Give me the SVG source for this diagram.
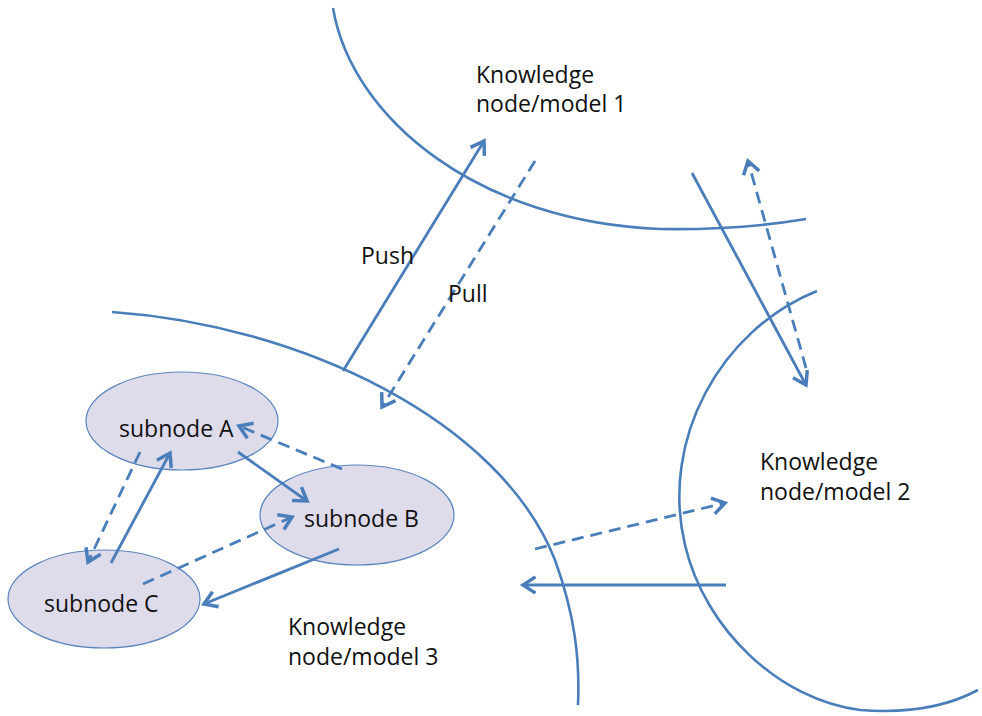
<svg xmlns="http://www.w3.org/2000/svg" width="982" height="716" viewBox="0 0 982 716">
<style>
.b{fill:none;stroke:#4a7ebb;stroke-width:2.6}
.c{fill:none;stroke:#4a7ebb;stroke-width:2.8}
.d{stroke-dasharray:12 7}
.n{fill:#dedbea;stroke:#5b84bd;stroke-width:1.2}
text{font-family:"Open Sans","Liberation Sans",sans-serif;font-size:23px;fill:#111}
</style>
<defs>
<marker id="ah" markerUnits="userSpaceOnUse" markerWidth="20" markerHeight="20" viewBox="-12 -8 16 16" refX="0" refY="0" orient="auto">
<path d="M-10,-6.5 L0,0 L-10,6.5" fill="none" stroke="#4a7ebb" stroke-width="2.8" stroke-linejoin="miter"/>
</marker>
</defs>
<rect width="982" height="716" fill="#fff"/>
<g id="boundaries">
<path id="b1" class="b" d="M333,8 C352,120 480,222 660,229 C720,230 770,225 806,219"/>
<path id="b3" class="b" d="M112,312 C300,325 500,420 555,560 C575,615 580,660 578,705"/>
<path id="b2" class="b" d="M817,291 C720,330 660,440 685,545 C705,630 780,700 860,710 C910,714 950,705 978,690"/>
</g>
<g id="node1"><text x="476" y="83">Knowledge</text><text x="476" y="112">node/model 1</text></g>
<g id="node2"><text x="760" y="470">Knowledge</text><text x="760" y="500">node/model 2</text></g>
<g id="node3"><text x="288" y="635">Knowledge</text><text x="288" y="665">node/model 3</text></g>
<g id="subnodeA"><ellipse class="n" cx="182" cy="421" rx="96" ry="49"/><text x="119" y="437">subnode A</text></g>
<g id="subnodeB"><ellipse class="n" cx="357" cy="515" rx="97" ry="50"/><text x="304" y="527">subnode B</text></g>
<g id="subnodeC"><ellipse class="n" cx="104" cy="599" rx="96" ry="49"/><text x="44" y="612">subnode C</text></g>
<g id="connectors">
<line class="c" x1="343" y1="371" x2="484" y2="141" marker-end="url(#ah)"/>
<line class="c d" x1="535" y1="161" x2="382" y2="407" marker-end="url(#ah)"/>
<line class="c" x1="692" y1="173" x2="806" y2="385" marker-end="url(#ah)"/>
<line class="c d" x1="806" y1="368" x2="748" y2="161" marker-end="url(#ah)"/>
<line class="c d" x1="535" y1="549" x2="725" y2="503" marker-end="url(#ah)"/>
<line class="c" x1="726" y1="585" x2="523" y2="585" marker-end="url(#ah)"/>
<line class="c" x1="111" y1="563" x2="170" y2="453" marker-end="url(#ah)"/>
<line class="c d" x1="140" y1="452" x2="88" y2="562" marker-end="url(#ah)"/>
<line class="c" x1="238" y1="452" x2="307" y2="501" marker-end="url(#ah)"/>
<line class="c d" x1="342" y1="469" x2="239" y2="426" marker-end="url(#ah)"/>
<line class="c d" x1="143" y1="584" x2="292" y2="517" marker-end="url(#ah)"/>
<line class="c" x1="339" y1="549" x2="204" y2="604" marker-end="url(#ah)"/>
</g>
<g id="labels"><text x="361" y="264">Push</text><text x="448" y="302">Pull</text></g>
</svg>
